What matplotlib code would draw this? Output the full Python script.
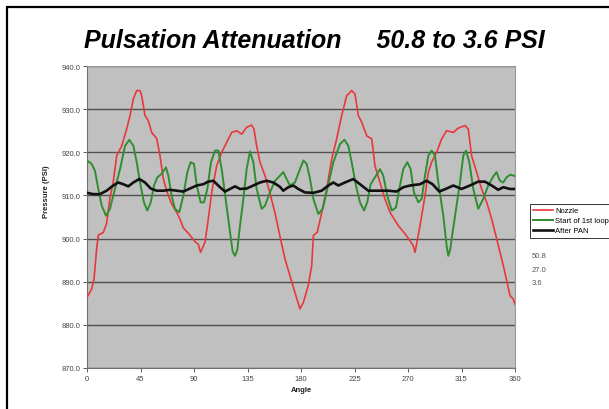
import matplotlib
matplotlib.use("Agg")
import matplotlib.pyplot as plt
from matplotlib.patches import Rectangle

plt.rcParams['font.family'] = ['Liberation Sans', 'DejaVu Sans']

# data (angle in degrees, pressure in PSI)
nozzle_angle = [0, 3.9, 5.9, 8.1, 9.5, 13.7, 16.5, 19.3, 22, 25, 29.2, 33.4, 36.2, 39, 41.8,
                44.6, 46, 48.8, 51.6, 54.4, 58.6, 61.4, 64.2, 67.5, 71.2, 75.4, 78.2, 81, 86.6,
                90.8, 93.6, 95.5, 99.2, 102, 104.9, 109.1, 113.3, 117.5, 121.7, 125.9, 130.1,
                134.3, 138.5, 140.4, 142.7, 145.5, 149.7, 153.9, 158.1, 162.3, 166.5, 170.7,
                174.9, 179.1, 182, 186.1, 189, 190.4, 193.7, 197.4, 201.6, 205.8, 210, 214.2,
                218.4, 222.6, 225.4, 228.2, 231, 235.3, 239.5, 242.2, 246.4, 250.6, 254.8,
                261.8, 267.5, 271.7, 274.5, 275.9, 280.1, 284.3, 287.1, 289.9, 294.1, 298.3,
                302.5, 308.1, 312.3, 317.9, 320.7, 323.5, 327.7, 331.9, 336.2, 340.4, 344.6,
                350.2, 355.8, 358.5, 360]
nozzle = [886.4, 888.3, 890.6, 897.6, 900.8, 901.4, 903.5, 909.5, 913, 919.2, 921.5, 925.4,
          928.5, 932.4, 934.3, 934.3, 933.1, 928.5, 927.3, 924.6, 923.2, 919.2, 913.8, 910.7,
          908, 906.1, 904.5, 902.5, 900.8, 899.3, 898.7, 896.8, 899.1, 904.5, 910.7, 916.9,
          920, 922.3, 924.6, 925, 924.2, 925.8, 926.3, 925.4, 921.5, 917.7, 914.6, 910.5, 906,
          900.5, 895.3, 891.4, 887.5, 883.7, 885.2, 889.1, 893.7, 900.7, 901.5, 906, 911.5,
          918.4, 923.1, 928.5, 933.1, 934.3, 933.5, 928.5, 927, 923.8, 923.1, 916.9, 913,
          909.2, 906.1, 903, 901.1, 899.5, 898.3, 896.8, 903, 909.9, 915.4, 917.7, 920, 923.1,
          925, 924.6, 925.6, 926.2, 925.4, 919.2, 915.4, 911.5, 908.4, 904.5, 899.9, 893.7,
          886.8, 886, 884.8]

loop_angle = [0, 3.9, 6.7, 9.5, 12.4, 16, 19.3, 23.5, 27.8, 32, 35.6, 39, 41.8, 44.6, 47.9,
              50.7, 53.6, 56.4, 59.2, 62.8, 66.4, 68.4, 71.2, 74, 77.6, 81, 84.4, 87.2, 90,
              92.3, 95.6, 98.4, 101.2, 104.3, 107.7, 110.4, 113.3, 116.6, 120.3, 122.5, 124.5,
              126.5, 128, 131.5, 134.3, 137.1, 139.9, 142.7, 146.9, 149.7, 153.9, 158.1, 161,
              165.1, 167.9, 170.7, 174.9, 179.1, 182, 184.8, 187.6, 190.4, 194.6, 198.3, 202.1,
              207.2, 212.8, 216.5, 219.8, 222.6, 226.2, 229.6, 233, 235.7, 238.6, 242.2, 246.4,
              249.2, 252.6, 256.3, 259.9, 262.7, 266, 269.4, 272.2, 275, 278.7, 281.5, 284.3,
              287.1, 289.9, 292.7, 295.5, 299.7, 302.5, 303.9, 305.5, 307.5, 313.7, 316.5,
              318.8, 321.6, 324.9, 329.1, 333.3, 337.5, 341.7, 344.5, 347.3, 350.1, 352.9, 356,
              360]
loop = [918.1, 917.3, 915.7, 911.5, 907.6, 905.3, 906.9, 911.5, 916.1, 921.5, 922.9, 921.5,
        917.7, 913, 908.4, 906.5, 908.4, 912.3, 914.2, 915, 916.5, 914.6, 909.9, 906.9, 906.1,
        909.9, 915.4, 917.7, 917.3, 912.3, 908.4, 908.4, 911.5, 917.7, 920.4, 920.4, 916.1,
        909.2, 901.5, 897, 896, 897.5, 901.4, 909.2, 916.1, 920.2, 917.7, 911.5, 906.9, 907.6,
        910.7, 913.4, 914.2, 915.4, 913.8, 912.3, 913, 916.1, 918.1, 917.3, 913.8, 909.2,
        905.7, 906.9, 911.5, 917.7, 921.9, 922.9, 921.5, 917.7, 912.3, 908.4, 906.5, 908.4,
        912.6, 914.2, 916.1, 914.6, 909.9, 906.5, 907.2, 911.5, 916.1, 917.7, 916.1, 910.7,
        908.4, 909.2, 914.6, 919.2, 920.4, 919.2, 913, 905.3, 898.3, 896, 897.5, 901.4, 913,
        919.2, 920.4, 917.7, 911.5, 906.9, 909.2, 912.3, 914.4, 915.4, 913.4, 913, 914.2,
        914.8, 914.5]

pan_angle = [0, 5.3, 10.9, 16.5, 22.1, 26.3, 30.5, 34.7, 39, 44, 48.8, 53.6, 58.6, 64.2, 69.8,
             75.4, 81, 86.6, 92.3, 97.8, 102, 106.2, 111.9, 116.1, 120.3, 124.5, 128.7, 134.3,
             139.9, 145.5, 151.1, 156.7, 162.3, 165.1, 169.3, 173.5, 177.7, 183.3, 190.4,
             197.4, 203, 207.2, 211.4, 217, 224, 229.6, 236.6, 245, 253.4, 260.4, 266, 271.7,
             280.1, 285.7, 290.7, 296.3, 302.5, 308.1, 315.1, 322.1, 329.1, 334.7, 340.4,
             345.9, 350.1, 355.7, 360]
pan = [910.6, 910.3, 910.3, 911.1, 912.3, 913, 912.6, 912.1, 913, 913.8, 913, 911.6, 911.1,
       911.1, 911.3, 911.1, 910.9, 911.6, 912.3, 912.6, 913.2, 913.4, 911.9, 910.9, 911.5,
       912.1, 911.5, 911.6, 912.3, 913, 913.4, 913, 912, 911.1, 911.9, 912.3, 911.5, 910.7,
       910.6, 911.1, 912.3, 913, 912.3, 913, 913.8, 912.6, 911.1, 911.1, 911.1, 910.9, 911.9,
       912.3, 912.6, 913.4, 912.6, 910.9, 911.6, 912.3, 911.5, 912.3, 913.2, 913.2, 912.3,
       911.3, 911.9, 911.5, 911.5]

x_ticks = [0, 45, 90, 135, 180, 225, 270, 315, 360]
y_ticks = [870, 880, 890, 900, 910, 920, 930, 940]
side_notes = ['50.8', '27.0', '3.6']

W, H = 609, 410
fig = plt.figure(figsize=(W / 100, H / 100), dpi=100)
ax = fig.add_axes([87 / W, 1 - 369 / H, (515 - 87) / W, (369 - 67) / H])
ax.set_facecolor('#c0c0c0')

ax.plot(nozzle_angle, nozzle, color='#e8383c', lw=1.2, label='Nozzle', zorder=3)
ax.plot(loop_angle, loop, color='#2f8f2f', lw=1.4, label='Start of 1st loop', zorder=4)
ax.plot(pan_angle, pan, color='#111111', lw=1.9, label='After PAN', zorder=5)

ax.set_xlim(0, 360)
ax.set_ylim(870, 940)
ax.set_xticks(x_ticks)
ax.set_yticks(y_ticks)
ax.set_yticklabels(['%.1f' % v for v in y_ticks])
ax.grid(axis='y', color='#505050', lw=1.0)
ax.set_axisbelow(True)
ax.tick_params(labelsize=5.5, colors='#444444', length=3, width=0.6, pad=2)
for s in ['top', 'right']:
    ax.spines[s].set_color('#9a9a9a')
for s in ['left', 'bottom']:
    ax.spines[s].set_color('#707070')
for s in ax.spines.values():
    s.set_linewidth(0.8)

ax.set_xlabel('Angle', fontsize=5.5, fontweight='bold', color='#222222', labelpad=3)
ax.set_ylabel('Pressure (PSI)', fontsize=5.5, fontweight='bold', color='#222222')
ax.yaxis.set_label_coords((50 - 87) / (515 - 87), (369 - 192) / (369 - 67))

fig.text(314 / W, 1 - 41 / H, 'Pulsation Attenuation     50.8 to 3.6 PSI',
         ha='center', va='center', fontsize=18, style='italic', fontweight='bold',
         color='black')

leg = fig.legend(loc='upper left', bbox_to_anchor=(530 / W, 1 - 205 / H),
                 fontsize=5.5, frameon=True, fancybox=False, borderpad=0.4,
                 handlelength=2.6, labelspacing=0.35, handletextpad=0.3,
                 borderaxespad=0)
leg.get_frame().set_edgecolor('black')
leg.get_frame().set_linewidth(0.7)

for i, t in enumerate(side_notes):
    fig.text(532 / W, 1 - (256 + 14 * i) / H, t, fontsize=5.5, color='#555555',
             ha='left', va='center')

# outer black frame of the slide (runs off the right and bottom)
fig.add_artist(Rectangle((7 / W, -0.1), 1.2, (H - 8) / H + 0.1,
                         transform=fig.transFigure, fill=False, ec='black', lw=1.6))

fig.savefig('out.png', dpi=100)
